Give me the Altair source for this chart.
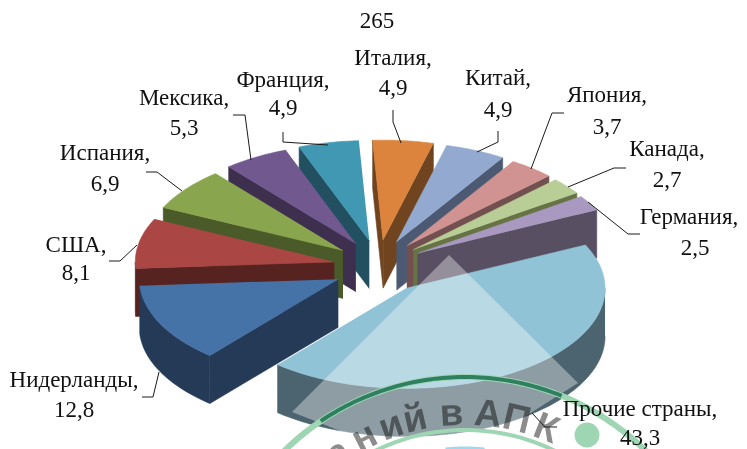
import math
import altair as alt
import pandas as pd

names = ["Италия", "Китай", "Япония", "Канада", "Германия", "Прочие страны",
         "Нидерланды", "США", "Испания", "Мексика", "Франция"]
values = [4.9, 4.9, 3.7, 2.7, 2.5, 43.3, 12.8, 8.1, 6.9, 5.3, 4.9]
value_text = ["4,9", "4,9", "3,7", "2,7", "2,5", "43,3", "12,8", "8,1", "6,9", "5,3", "4,9"]
top_colors = ["#dc843e", "#93a9cf", "#d19391", "#b9cd96", "#a999c0", "#90c3d6",
              "#4573a7", "#aa4644", "#89a54e", "#71588f", "#4198b2"]
wall_colors = ["#6f441f", "#4b5a72", "#72504f", "#667345", "#584f63", "#4c6470",
               "#243a56", "#572320", "#4a5a28", "#3d2f4d", "#235060"]
paint_order = [10, 9, 8, 7, 6, 0, 1, 2, 3, 4, 5]
title_text = "265"

label_x1 = [393, 498, 607, 667, 689, 640, 74, 76, 105, 184, 283]
label_x2 = [393, 498, 607, 667, 695, 640, 74, 76, 105, 184, 283]
label_y1 = [58, 78, 95, 149, 217, 409, 380, 245, 153, 98, 80]
label_y2 = [88, 110, 127, 180, 248, 438, 410, 273, 184, 128, 108]
leaders = [
    [(393, 110), (393, 122), (401, 143)],
    [(498, 131), (498, 142), (477, 152)],
    [(564, 113), (552, 113), (531, 169)],
    [(626, 168), (614, 168), (568, 187)],
    [(640, 234), (628, 234), (588, 202)],
    [(557, 427), (545, 427), (532, 413)],
    [(142, 397), (153, 397), (159, 372)],
    [(109, 261), (120, 261), (137, 245)],
    [(146, 172), (157, 172), (182, 191)],
    [(233, 115), (245, 115), (251, 160)],
    [(283, 132), (283, 142), (328, 145)],
]

# pie geometry
CX, CY, EX, EY = 378.5, 267, 45, 27
RX, RY, DEPTH = 199, 100, 48
START = -3

# stamp showing through at the bottom
stamp_chars = list("анийвАПК")
stamp_angles = [-35, -27, -19.5, -13, -3.5, 6, 13.5, 21.5]
stamp_c = (465, 635)
stamp_rings = [
    (258, -50, 50, 6, "#9ed6b4"),
    (205, -40, 40, 4, "#9ed6b4"),
    (258, -34, 22, 4, "#2e8060"),
    (187, -6, 6, 3, "#a0d8ef"),
]
highlight = [(449, 255), (292, 412), (440, 470), (578, 383)]

polys = []


def add(points, color):
    pid = len({p["poly"] for p in polys})
    for i, (x, y) in enumerate(points):
        polys.append({"poly": pid, "seq": i, "x": x, "y": y, "c": color})


def rim(ax, ay, t):
    r = math.radians(t)
    return ax + RX * math.sin(r), ay - RY * math.cos(r)


bounds = []
acc = START
for v in values:
    bounds.append((acc, acc + v * 3.6))
    acc += v * 3.6

for idx in paint_order:
    a, b = bounds[idx]
    mid = math.radians((a + b) / 2)
    ax, ay = CX + EX * math.sin(mid), CY - EY * math.cos(mid)
    n = max(4, int(b - a))
    ts = [a + (b - a) * i / n for i in range(n + 1)]
    wall = wall_colors[idx]
    # radial walls that face the viewer
    for t, visible in ((a, 180 < a % 360 < 360), (b, 0 < b % 360 < 180)):
        if visible:
            px, py = rim(ax, ay, t)
            add([(ax, ay), (px, py), (px, py + DEPTH), (ax, ay + DEPTH)], wall)
    # outer curved wall
    lo, hi = max(a, 90), min(b, 270)
    if lo < hi:
        m = max(4, int(hi - lo))
        arc = [rim(ax, ay, lo + (hi - lo) * i / m) for i in range(m + 1)]
        add(arc + [(x, y + DEPTH) for x, y in reversed(arc)], wall)
    # top face
    add([(ax, ay)] + [rim(ax, ay, t) for t in ts], top_colors[idx])

xs = alt.Scale(domain=[8, 739], range=[0, 731])
ys = alt.Scale(domain=[8, 449], range=[0, 441])
X = lambda f="x": alt.X(f, type="quantitative", scale=xs, axis=None)
Y = lambda f="y": alt.Y(f, type="quantitative", scale=ys, axis=None)

pie = alt.Chart(pd.DataFrame(polys)).mark_line(strokeWidth=0.6, strokeJoin="round").encode(
    x=X(), y=Y(), detail="poly:N", order="seq:Q",
    fill=alt.Fill("c:N", scale=None), stroke=alt.Stroke("c:N", scale=None),
)

hl_df = pd.DataFrame([{"x": x, "y": y, "seq": i} for i, (x, y) in enumerate(highlight + highlight[:1])])
hl = alt.Chart(hl_df).mark_line(fill="white", fillOpacity=0.37, strokeWidth=0).encode(
    x=X(), y=Y(), order="seq:Q")

ring_rows = []
for k, (r, a0, a1, w, c) in enumerate(stamp_rings):
    for i in range(61):
        t = math.radians(a0 + (a1 - a0) * i / 60)
        ring_rows.append({"ring": k, "seq": i, "w": w, "c": c,
                          "x": stamp_c[0] + r * math.sin(t), "y": stamp_c[1] - r * math.cos(t)})
rings = alt.Chart(pd.DataFrame(ring_rows)).mark_line().encode(
    x=X(), y=Y(), detail="ring:N", order="seq:Q",
    stroke=alt.Stroke("c:N", scale=None),
    strokeWidth=alt.StrokeWidth("w:Q", scale=None))

dot = alt.Chart(pd.DataFrame({"x": [587], "y": [435]})).mark_point(
    filled=True, color="#9ed6b4", size=620, opacity=1, shape="circle").encode(x=X(), y=Y())

chars = []
for ch, t in zip(stamp_chars, stamp_angles):
    r = math.radians(t)
    chars.append({"t": ch, "x": stamp_c[0] + 210 * math.sin(r), "y": stamp_c[1] - 210 * math.cos(r),
                  "a": t % 360})
stamp_text = alt.Chart(pd.DataFrame(chars)).mark_text(
    font="Liberation Sans", fontWeight="bold", fontSize=38, color="#8c8c8c",
    baseline="alphabetic", align="center", blend="multiply").encode(
    x=X(), y=Y(), text="t:N", angle=alt.Angle("a:Q", scale=None))

lead_rows = []
for k, pts in enumerate(leaders):
    for i, (x, y) in enumerate(pts):
        lead_rows.append({"k": k, "seq": i, "x": x, "y": y})
lines = alt.Chart(pd.DataFrame(lead_rows)).mark_line(color="#1a1a1a", strokeWidth=1).encode(
    x=X(), y=Y(), detail="k:N", order="seq:Q")

lab_rows = [{"t": title_text, "x": 377, "y": 21}]
for n, v, x1, x2, y1, y2 in zip(names, value_text, label_x1, label_x2, label_y1, label_y2):
    lab_rows.append({"t": n + ",", "x": x1, "y": y1})
    lab_rows.append({"t": v, "x": x2, "y": y2})
labels = alt.Chart(pd.DataFrame(lab_rows)).mark_text(
    font="Liberation Serif", fontSize=23, color="#111111", baseline="middle", align="center").encode(
    x=X(), y=Y(), text="t:N")

chart = alt.layer(pie, hl, rings, dot, stamp_text, lines, labels).properties(
    width=731, height=441, padding=0,
    autosize=alt.AutoSizeParams(type="none"),
    background="white",
).configure_view(stroke=None)

chart.save("out.html", embed_options={"renderer": "svg", "actions": False})
